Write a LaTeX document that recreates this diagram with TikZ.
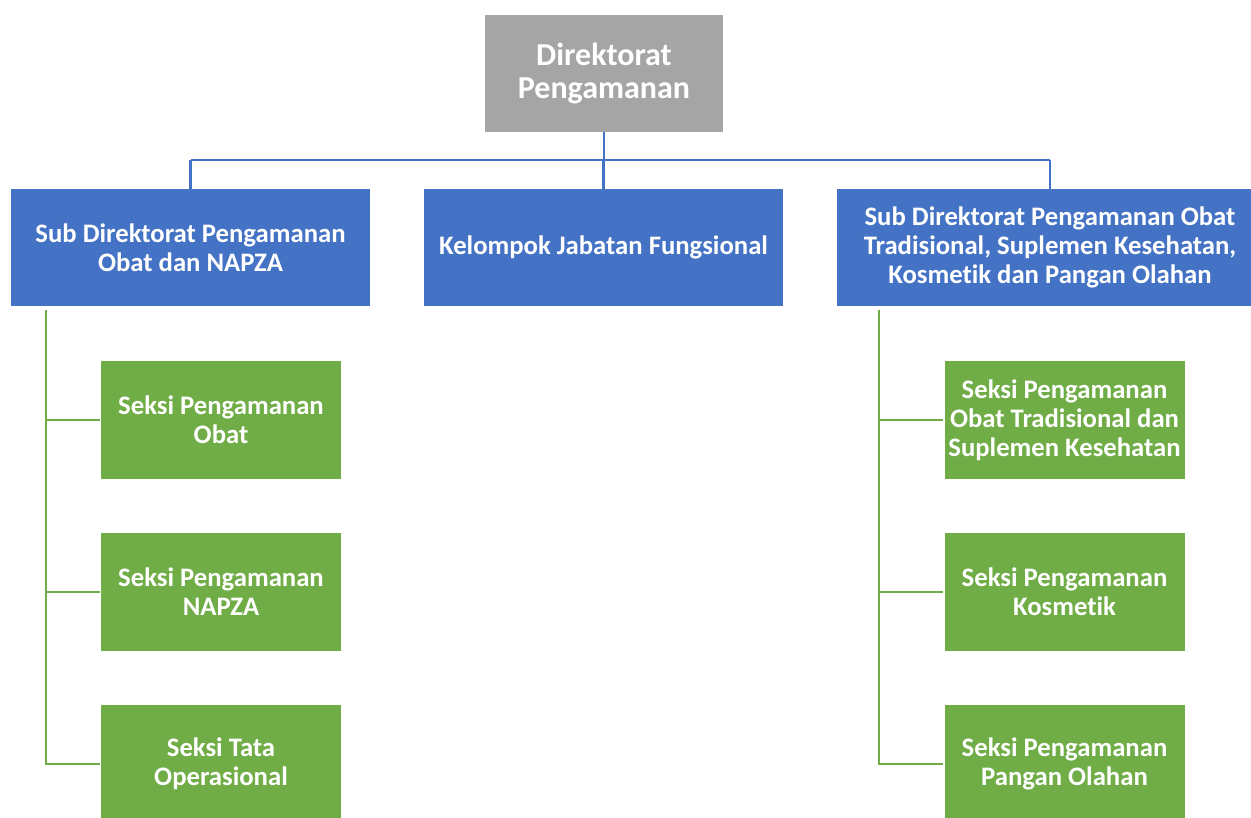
\documentclass[tikz,border=0pt]{standalone}
\usepackage{fontspec}
\setmainfont{Carlito}[Ligatures=NoCommon]
\definecolor{gbox}{HTML}{A5A5A5}
\definecolor{bbox}{HTML}{4472C4}
\definecolor{grn}{HTML}{70AD47}
\begin{document}
\begin{tikzpicture}[x=1pt,y=-1pt,
  box/.style={inner sep=0pt,align=center,text=white,font=\bfseries\fontsize{26.7}{29}\selectfont},
  topbox/.style={box,fill=gbox,minimum width=238pt,minimum height=117pt,font=\bfseries\fontsize{32}{33}\selectfont},
  bluebox/.style={box,fill=bbox,minimum width=359pt,minimum height=117pt},
  greenbox/.style={box,fill=grn,minimum width=240pt,minimum height=118pt},
  bline/.style={draw=bbox,line width=2.2pt},
  gline/.style={draw=grn,line width=2.6pt}]
\useasboundingbox (0,0) rectangle (1251,818);
\clip (0,0) rectangle (1251,818);
\node[topbox] (top) at (604,73.5) {Direktorat\\Pengamanan};
\node[bluebox] (l1) at (190.5,247.5) {Sub Direktorat Pengamanan\\Obat dan NAPZA};
\node[bluebox] (l2) at (603.5,247.5) {Kelompok Jabatan Fungsional};
\node[bluebox,minimum width=426pt] (l3) at (1050,247.5) {Sub Direktorat Pengamanan Obat\\Tradisional, Suplemen Kesehatan,\\Kosmetik dan Pangan Olahan};
\node[greenbox] (a1) at (221,420) {Seksi Pengamanan\\Obat};
\node[greenbox] (a2) at (221,592) {Seksi Pengamanan\\NAPZA};
\node[greenbox] (a3) at (221,764) {Seksi Tata\\Operasional};
\node[greenbox] (b1) at (1064.5,420) {Seksi Pengamanan\\Obat Tradisional dan\\Suplemen Kesehatan};
\node[greenbox] (b2) at (1064.5,592) {Seksi Pengamanan\\Kosmetik};
\node[greenbox] (b3) at (1064.5,764) {Seksi Pengamanan\\Pangan Olahan};
\coordinate (bus) at (604,160);
\draw[bline] (top.south) -- (bus);
\draw[bline] (bus -| l1.north) -- (bus -| l3.north);
\draw[bline] (bus -| l1.north) -- ([yshift=-3]l1.north);
\draw[bline] (bus -| l2.north) -- ([yshift=-3]l2.north);
\draw[bline] (bus -| l3.north) -- ([yshift=-3]l3.north);
\coordinate (lt) at (46,310);
\coordinate (rt) at (879,310);
\draw[gline] (lt) |- ([xshift=-1]a3.west);
\draw[gline] (lt |- a1.west) -- ([xshift=-1]a1.west);
\draw[gline] (lt |- a2.west) -- ([xshift=-1]a2.west);
\draw[gline] (rt) |- ([xshift=-1]b3.west);
\draw[gline] (rt |- b1.west) -- ([xshift=-1]b1.west);
\draw[gline] (rt |- b2.west) -- ([xshift=-1]b2.west);
\end{tikzpicture}
\end{document}
